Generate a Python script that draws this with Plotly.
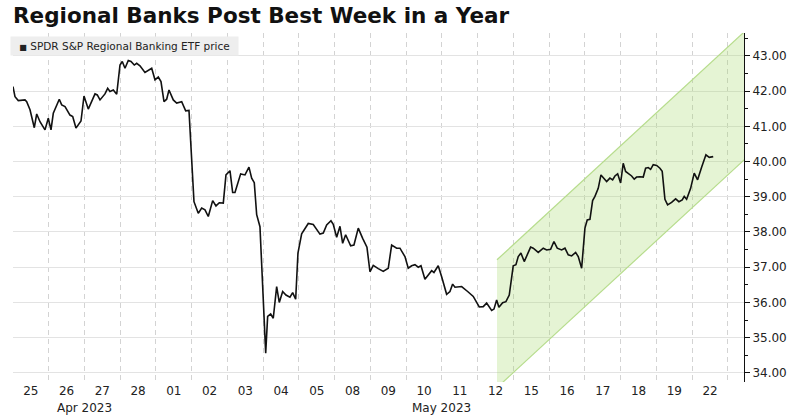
import plotly.graph_objects as go

# ---- data ----
day_labels = ["25", "26", "27", "28", "01", "02", "03", "04", "05", "08",
              "09", "10", "11", "12", "15", "16", "17", "18", "19", "22"]
month_labels = ["Apr 2023", "May 2023"]
month_pos = [2, 12]          # boundary (in sessions) under which the month label sits

# session position (0 = open of Apr 25, 1 session per trading day)
t = [0.000, 0.056, 0.148, 0.336, 0.383, 0.476, 0.596, 0.663, 0.755, 0.895,
     0.987, 1.063, 1.127, 1.295, 1.362, 1.455, 1.594, 1.670, 1.762, 1.902,
     1.986, 2.106, 2.294, 2.358, 2.434, 2.573, 2.649, 2.713, 2.806, 2.901,
     2.993, 3.057, 3.133, 3.225, 3.301, 3.393, 3.460, 3.552, 3.692, 3.785,
     3.880, 3.972, 4.064, 4.140, 4.224, 4.299, 4.364, 4.484, 4.579, 4.719,
     4.831, 4.923, 5.063, 5.183, 5.278, 5.371, 5.463, 5.586, 5.678, 5.771,
     5.883, 5.958, 6.070, 6.145, 6.210, 6.369, 6.490, 6.601, 6.677, 6.750,
     6.817, 6.909, 7.069, 7.124, 7.208, 7.281, 7.376, 7.449, 7.544, 7.636,
     7.748, 7.824, 7.908, 7.972, 8.075, 8.260, 8.400, 8.587, 8.680, 8.775,
     8.895, 8.959, 9.055, 9.147, 9.222, 9.306, 9.446, 9.538, 9.659, 9.782,
     9.902, 9.986, 10.078, 10.218, 10.358, 10.498, 10.593, 10.733, 10.825, 10.965,
     11.057, 11.152, 11.245, 11.337, 11.413, 11.524, 11.617, 11.712, 11.776, 11.896,
     11.992, 12.131, 12.224, 12.299, 12.364, 12.551, 12.719, 12.876, 13.043, 13.155,
     13.250, 13.390, 13.455, 13.530, 13.594, 13.698, 13.790, 13.883, 13.994, 14.070,
     14.134, 14.210, 14.302, 14.369, 14.481, 14.554, 14.694, 14.834, 14.929, 15.040,
     15.133, 15.225, 15.348, 15.441, 15.533, 15.628, 15.740, 15.813, 15.908, 16.000,
     16.064, 16.140, 16.215, 16.280, 16.372, 16.448, 16.531, 16.607, 16.699, 16.775,
     16.839, 16.915, 16.998, 17.071, 17.138, 17.211, 17.306, 17.379, 17.446, 17.538,
     17.631, 17.698, 17.771, 17.838, 17.911, 18.006, 18.098, 18.162, 18.238, 18.313,
     18.425, 18.537, 18.629, 18.722, 18.778, 18.845, 18.957, 19.057, 19.152, 19.264,
     19.385, 19.477, 19.589]

price = [42.13, 41.84, 41.73, 41.75, 41.70, 41.47, 40.96, 41.35, 41.13, 40.90,
         41.23, 40.90, 41.37, 41.77, 41.61, 41.56, 41.32, 41.28, 40.95, 41.15,
         41.86, 41.49, 41.92, 41.89, 41.75, 41.92, 42.08, 41.99, 42.03, 41.91,
         42.74, 42.84, 42.65, 42.87, 42.84, 42.74, 42.79, 42.72, 42.53, 42.60,
         42.65, 42.32, 42.40, 42.27, 41.70, 41.77, 42.03, 41.75, 41.66, 41.70,
         41.44, 41.45, 38.86, 38.53, 38.68, 38.63, 38.44, 38.89, 38.74, 38.83,
         38.82, 39.62, 39.74, 39.12, 39.12, 39.65, 39.62, 39.84, 39.53, 39.40,
         38.49, 38.15, 34.56, 35.60, 35.67, 35.55, 36.45, 36.00, 36.31, 36.21,
         36.15, 36.28, 36.09, 37.40, 37.95, 38.24, 38.21, 37.94, 37.97, 38.20,
         38.32, 38.22, 37.85, 38.16, 37.68, 37.92, 37.61, 37.63, 38.11, 37.82,
         37.57, 36.87, 37.05, 36.96, 36.88, 36.97, 37.63, 37.54, 37.54, 37.30,
         36.97, 37.04, 37.07, 37.00, 37.04, 36.66, 36.78, 36.90, 36.85, 37.04,
         36.73, 36.23, 36.31, 36.52, 36.43, 36.45, 36.31, 36.17, 35.87, 35.88,
         35.98, 35.77, 35.81, 36.07, 35.86, 35.99, 36.02, 36.21, 37.04, 37.07,
         37.30, 37.40, 37.16, 37.30, 37.57, 37.54, 37.42, 37.54, 37.49, 37.51,
         37.73, 37.54, 37.49, 37.54, 37.35, 37.32, 37.42, 37.30, 36.97, 38.11,
         38.34, 38.36, 38.89, 39.01, 39.24, 39.62, 39.53, 39.43, 39.53, 39.48,
         39.59, 39.65, 39.39, 39.95, 39.72, 39.67, 39.59, 39.50, 39.56, 39.57,
         39.56, 39.81, 39.83, 39.78, 39.91, 39.89, 39.81, 39.72, 38.93, 38.77,
         38.84, 38.94, 38.86, 38.91, 39.01, 38.93, 39.24, 39.67, 39.48, 39.84,
         40.19, 40.12, 40.14]

# trend channel (start / end of the band)
chan_t = [13.54, 21.0]
chan_upper = [37.21, 44.19]
chan_lower = [33.58, 40.56]

series_name = "SPDR S&amp;P Regional Banking ETF price"
title_text = "Regional Banks Post Best Week in a Year"

# ---- figure ----
FONT = "DejaVu Sans"
fig = go.Figure()

# channel fill
fig.add_trace(go.Scatter(
    x=[chan_t[0], chan_t[1], chan_t[1], chan_t[0]],
    y=[chan_upper[0], chan_upper[1], chan_lower[1], chan_lower[0]],
    fill="toself", fillcolor="rgba(160,215,100,0.28)",
    mode="lines", line=dict(width=0), hoverinfo="skip", showlegend=False))
for edge in (chan_upper, chan_lower):
    fig.add_trace(go.Scatter(x=chan_t, y=edge, mode="lines",
                             line=dict(color="#b6dc8c", width=1.2),
                             hoverinfo="skip", showlegend=False))

# price line
fig.add_trace(go.Scatter(x=t, y=price, mode="lines",
                         line=dict(color="#111111", width=1.6),
                         name="price", showlegend=False))

fig.update_layout(
    width=792, height=415,
    margin=dict(l=13, r=48, t=33, b=33, autoexpand=False),
    paper_bgcolor="white", plot_bgcolor="white",
    font=dict(family=FONT, color="#222222", size=12),
    title=dict(text="<b>" + title_text + "</b>",
               font=dict(family=FONT, size=21.5, color="#111111"),
               xref="paper", x=0, xanchor="left",
               yref="container", y=1 - 15 / 415, yanchor="middle"),
    xaxis=dict(
        range=[0, 20.45], automargin=False,
        tickmode="array",
        tickvals=[i + 0.5 for i in range(len(day_labels))],
        ticktext=day_labels,
        showgrid=False, zeroline=False, showline=False, ticks="",
        tickfont=dict(size=12, color="#222222"),
        minor=dict(tickmode="array", tickvals=list(range(0, len(day_labels) + 1)),
                   showgrid=True, gridcolor="#d3d3d3", gridwidth=1,
                   griddash="5px,4px", ticks=""),
    ),
    yaxis=dict(
        side="right", range=[33.74, 43.65], automargin=False,
        tick0=0, dtick=1, tickformat=".2f",
        showgrid=True, gridcolor="#e3e3e3", gridwidth=1,
        zeroline=False, showline=True, linecolor="#111111", linewidth=1,
        ticks="outside", ticklen=5, tickcolor="#111111",
        tickfont=dict(size=12, color="#222222"),
        minor=dict(dtick=0.5, ticks="outside", ticklen=3, tickcolor="#111111",
                   showgrid=False),
    ),
)

# month labels under the day ticks
for lbl, pos in zip(month_labels, month_pos):
    fig.add_annotation(x=pos, y=0, xref="x", yref="paper", text=lbl,
                       showarrow=False, xanchor="center", yanchor="top",
                       yshift=-17, font=dict(size=12, color="#222222"))

# legend box
fig.add_annotation(x=0, y=1, xref="paper", yref="paper", xanchor="left", yanchor="top",
                   xshift=-3, yshift=-3, showarrow=False,
                   text="<span style='font-size:8px'>■</span> " + series_name,
                   font=dict(size=10.5, color="#222222"),
                   bgcolor="#eeeeee", borderpad=3, width=221, align="center")

fig.write_html("out.html", config={"displayModeBar": False},
               post_script="document.body.style.margin='0';document.body.style.padding='0';")
